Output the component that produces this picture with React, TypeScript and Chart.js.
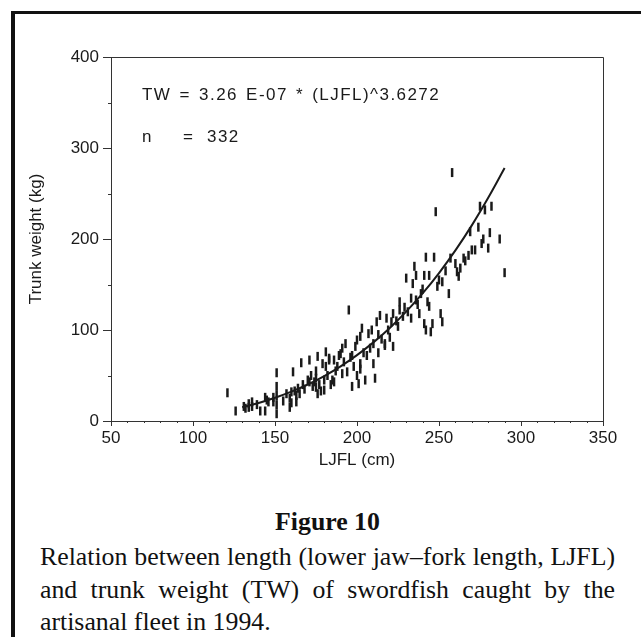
import React, { useEffect, useRef } from "react";
import { Chart, registerables } from "chart.js";

Chart.register(...registerables);

// Observed fish: lower jaw–fork length (cm) and trunk weight (kg)
const lengthsCm = [
  121, 126, 131, 132, 134, 134, 136, 136, 139, 141, 144, 144, 145, 146, 149, 149,
  151, 151, 151, 151, 151, 155, 157, 159, 159, 160, 160, 161, 162, 163, 163, 164,
  165, 166, 167, 168, 170, 171, 171, 172, 173, 174, 175, 175, 175, 176, 176, 177,
  178, 179, 180, 180, 181, 181, 182, 183, 183, 184, 185, 186, 186, 187, 188, 189,
  190, 191, 191, 192, 193, 194, 195, 196, 197, 197, 198, 199, 200, 200, 201, 202,
  202, 202, 203, 204, 205, 206, 207, 208, 209, 210, 210, 211, 212, 213, 213, 214,
  215, 217, 217, 218, 219, 220, 221, 222, 222, 224, 225, 226, 226, 228, 229, 230,
  231, 233, 233, 234, 235, 236, 236, 237, 238, 239, 240, 241, 241, 242, 242, 243,
  244, 244, 245, 246, 247, 248, 249, 250, 251, 252, 252, 254, 256, 257, 258, 260,
  261, 262, 263, 265, 266, 268, 269, 270, 272, 274, 275, 276, 277, 278, 280, 281,
  282, 287, 290,
];
const weightsKg = [
  31, 11, 16, 14, 15, 19, 21, 16, 18, 11, 11, 26, 23, 21, 21, 26,
  53, 38, 28, 18, 8, 22, 30, 25, 15, 32, 20, 54, 33, 21, 28, 36,
  30, 64, 40, 35, 45, 67, 43, 50, 38, 43, 37, 47, 55, 71, 30, 40,
  33, 63, 45, 34, 76, 60, 50, 67, 69, 40, 45, 43, 67, 55, 60, 72,
  74, 80, 52, 65, 85, 54, 122, 70, 38, 72, 60, 82, 89, 50, 41, 93,
  63, 57, 102, 75, 45, 72, 96, 80, 100, 85, 63, 47, 109, 95, 75, 116,
  90, 83, 85, 113, 100, 92, 109, 118, 82, 110, 104, 131, 122, 115, 125, 157,
  120, 113, 135, 151, 170, 160, 133, 128, 118, 140, 145, 160, 107, 180, 100, 131,
  160, 126, 98, 107, 180, 230, 148, 155, 118, 153, 109, 165, 140, 179, 273, 173,
  164, 159, 168, 179, 176, 182, 208, 188, 188, 213, 236, 195, 200, 232, 190, 207,
  236, 200, 163,
];

// Fitted curve TW = 3.26E-07 * LJFL^3.6272, as drawn
const curveLengthCm = [130, 140, 150, 160, 170, 180, 190, 200, 210, 220, 230, 240, 250, 260, 270, 280, 290];
const curveWeightKg = [15.2, 19.8, 25.5, 32.2, 40.1, 49.4, 60.1, 72.4, 86.4, 102.3, 120.2, 140.2, 162.6, 187.5, 215.0, 245.3, 278.0];

const xTickValues = [50, 100, 150, 200, 250, 300, 350];
const yTickValues = [0, 100, 200, 300, 400];
const xMinorTicks = [60, 70, 80, 90, 110, 120, 130, 140, 160, 170, 180, 190, 210, 220, 230, 240, 260, 270, 280, 290, 310, 320, 330, 340];
const yMinorTicks = [50, 150, 250, 350];

const equationText = "TW = 3.26 E-07 * (LJFL)^3.6272";
const nLabel = "n";
const nEquals = "=";
const nValue = "332";

const SANS = "'Liberation Sans', Arial, sans-serif";
const SERIF = "'Liberation Serif', 'Times New Roman', serif";
const INK = "#1a1a1a";

const boxPlugin = {
  id: "plotBox",
  afterDraw(chart: any) {
    const { ctx, chartArea } = chart;
    const xs = chart.scales.x;
    const ys = chart.scales.y;
    ctx.save();
    ctx.strokeStyle = "#333";
    ctx.lineWidth = 1;
    ctx.beginPath();
    ctx.moveTo(chartArea.left, chartArea.top + 0.5);
    ctx.lineTo(chartArea.right + 0.5, chartArea.top + 0.5);
    ctx.lineTo(chartArea.right + 0.5, chartArea.bottom);
    ctx.stroke();
    ctx.beginPath();
    for (const v of yMinorTicks) {
      const y = Math.round(ys.getPixelForValue(v)) + 0.5;
      ctx.moveTo(chartArea.left - 3, y);
      ctx.lineTo(chartArea.left, y);
    }
    for (const v of xMinorTicks) {
      const x = Math.round(xs.getPixelForValue(v)) + 0.5;
      ctx.moveTo(x, chartArea.bottom);
      ctx.lineTo(x, chartArea.bottom + 2);
    }
    ctx.stroke();
    ctx.restore();
  },
};

function ScatterChart() {
  const ref = useRef<HTMLCanvasElement | null>(null);
  useEffect(() => {
    if (!ref.current) return;
    const points = lengthsCm.map((x, i) => ({ x, y: weightsKg[i] }));
    const curve = curveLengthCm.map((x, i) => ({ x, y: curveWeightKg[i] }));
    const chart = new Chart(ref.current, {
      type: "scatter",
      data: {
        datasets: [
          {
            type: "line",
            data: curve,
            borderColor: INK,
            borderWidth: 2,
            pointRadius: 0,
            tension: 0.4,
            fill: false,
          } as any,
          {
            type: "scatter",
            data: points,
            pointStyle: "line",
            pointRotation: 90,
            pointRadius: 4.5,
            pointBorderWidth: 2.5,
            pointBorderColor: INK,
            pointBackgroundColor: INK,
          } as any,
        ],
      },
      options: {
        animation: false,
        responsive: false,
        maintainAspectRatio: false,
        events: [],
        layout: { padding: { top: 57, right: 38, bottom: 0, left: 0 } },
        plugins: {
          legend: { display: false },
          tooltip: { enabled: false },
        },
        scales: {
          x: {
            type: "linear",
            min: 50,
            max: 350,
            afterBuildTicks: (s: any) => {
              s.ticks = xTickValues.map((v) => ({ value: v }));
            },
            afterFit: (s: any) => {
              s.height = 54;
            },
            ticks: {
              color: INK,
              font: { family: SANS, size: 17 },
              padding: 2,
              maxRotation: 0,
            },
            grid: { drawOnChartArea: false, tickLength: 5, color: "#333" },
            border: { color: "#333", width: 1 },
            title: {
              display: true,
              text: "LJFL (cm)",
              color: INK,
              font: { family: SANS, size: 17 },
              padding: { top: 0, bottom: 4 },
            },
          },
          y: {
            type: "linear",
            min: 0,
            max: 400,
            afterBuildTicks: (s: any) => {
              s.ticks = yTickValues.map((v) => ({ value: v }));
            },
            afterFit: (s: any) => {
              s.width = 111;
            },
            ticks: {
              color: INK,
              font: { family: SANS, size: 17 },
              padding: 4,
            },
            grid: { drawOnChartArea: false, tickLength: 8, color: "#333" },
            border: { color: "#333", width: 1 },
            title: {
              display: true,
              text: "Trunk weight (kg)",
              color: INK,
              font: { family: SANS, size: 17 },
              padding: { top: 26, bottom: 0 },
            },
          },
        },
      } as any,
      plugins: [boxPlugin],
    });
    return () => chart.destroy();
  }, []);
  return (
    <canvas
      ref={ref}
      width={641}
      height={475}
      style={{ position: "absolute", left: 0, top: 0, width: 641, height: 475 }}
    />
  );
}

export default function App() {
  const annot: React.CSSProperties = {
    position: "absolute",
    fontFamily: SANS,
    fontSize: 17,
    lineHeight: "20px",
    color: INK,
    whiteSpace: "pre",
    letterSpacing: "1.45px",
    wordSpacing: "2px",
  };
  const capLine: React.CSSProperties = {
    position: "absolute",
    left: 40,
    width: 575,
    fontFamily: SERIF,
    fontSize: 25.8,
    lineHeight: "33px",
    color: "#111",
    whiteSpace: "nowrap",
  };
  return (
    <div
      style={{
        position: "absolute",
        left: 0,
        top: 0,
        width: 641,
        height: 637,
        overflow: "hidden",
        background: "#fff",
      }}
    >
      <div
        style={{
          position: "absolute",
          left: 11,
          top: 11,
          width: 800,
          height: 800,
          borderTop: "3px solid #111",
          borderLeft: "4px solid #111",
        }}
      />
      <ScatterChart />
      <div style={{ ...annot, left: 142, top: 85 }}>{equationText}</div>
      <div style={{ ...annot, left: 142, top: 127 }}>{nLabel}</div>
      <div style={{ ...annot, left: 183, top: 127 }}>{nEquals}</div>
      <div style={{ ...annot, left: 207, top: 127 }}>{nValue}</div>
      <div
        style={{
          position: "absolute",
          left: 40,
          width: 575,
          top: 505,
          textAlign: "center",
          fontFamily: SERIF,
          fontWeight: "bold",
          fontSize: 25.8,
          lineHeight: "33px",
          color: "#111",
        }}
      >
        Figure 10
      </div>
      <div style={{ ...capLine, top: 540, textAlign: "justify", textAlignLast: "justify" }}>
        Relation between length (lower jaw–fork length, LJFL)
      </div>
      <div style={{ ...capLine, top: 573, textAlign: "justify", textAlignLast: "justify" }}>
        and trunk weight (TW) of swordfish caught by the
      </div>
      <div style={{ ...capLine, top: 605, textAlign: "left" }}>artisanal fleet in 1994.</div>
    </div>
  );
}
